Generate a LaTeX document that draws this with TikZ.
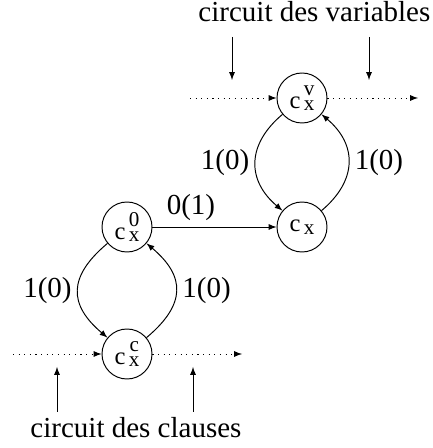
\documentclass[tikz,border=0pt]{standalone}
\usepackage{fontspec}
\setmainfont{Liberation Serif}
\usetikzlibrary{arrows,shapes}

\newcommand{\cvar}[2]{c\kern2pt\raisebox{-1pt}{\fontsize{12}{12}\selectfont\shortstack{#1\\#2}}}

\begin{document}
\begin{tikzpicture}[>=latex, line width=0.55pt,
	vertex/.style={draw, circle, minimum size=1cm, inner sep=0pt, font=\fontsize{14}{16}\selectfont},
	lbl/.style={font=\fontsize{16.5}{19}\selectfont},
	title/.style={lbl, inner sep=0pt, anchor=base west},
	wire/.style={->, dash pattern=on 0.6pt off 2.6pt}]
	\definecolor{color1}{gray}{0.}
	\useasboundingbox (0,0) rectangle (8.64,8.96);
	%% Vertices ------
	\node[vertex] (cv) at (6.04,7.00) {\cvar{v}{x}};
	\node[vertex] (cx) at (6.04,4.42) {c\kern2pt\raisebox{-2pt}{\fontsize{12}{12}\selectfont x}};
	\node[vertex] (c0) at (2.54,4.42) {\cvar{0}{x}};
	\node[vertex] (cc) at (2.54,1.88) {\cvar{c}{x}};
	%% Texts ---------
	\node[title] (vars) at (3.96,8.52) {circuit des variables};
	\node[title] (clauses) at (0.60,0.22) {circuit des clauses};
	%% Free ends -----
	\coordinate (vin) at (3.80,7.00);
	\coordinate (vout) at (8.36,7.00);
	\coordinate (cin) at (0.26,1.88);
	\coordinate (cout) at (4.84,1.88);
	\coordinate (v1) at (4.64,8.22); \coordinate (v1e) at (4.64,7.36);
	\coordinate (v2) at (7.38,8.22); \coordinate (v2e) at (7.38,7.36);
	\coordinate (k1) at (1.14,0.72); \coordinate (k1e) at (1.14,1.62);
	\coordinate (k2) at (3.86,0.72); \coordinate (k2e) at (3.86,1.62);
	%% Edges ---------
	\draw[->, color1] (c0) -- node[lbl, pos=0.31, above] {0(1)} (cx);
	\draw[->, color1] (cv) to[bend right=50, looseness=1.25] node[lbl, left] {1(0)} (cx);
	\draw[->, color1] (cx) to[bend right=50, looseness=1.25] node[lbl, right] {1(0)} (cv);
	\draw[->, color1] (c0) to[bend right=50, looseness=1.4] node[lbl, left] {1(0)} (cc);
	\draw[->, color1] (cc) to[bend right=50, looseness=1.4] node[lbl, right] {1(0)} (c0);
	\draw[wire] (vin) -- (cv);
	\draw[wire] (cv) -- (vout);
	\draw[wire] (cin) -- (cc);
	\draw[wire] (cc) -- (cout);
	\draw[->] (v1) -- (v1e);
	\draw[->] (v2) -- (v2e);
	\draw[->] (k1) -- (k1e);
	\draw[->] (k2) -- (k2e);
\end{tikzpicture}
\end{document}
